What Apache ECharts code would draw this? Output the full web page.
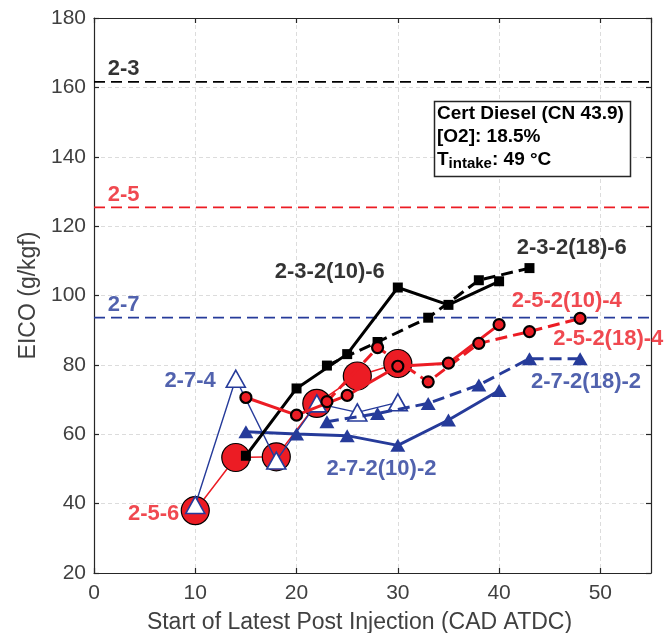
<!DOCTYPE html>
<html>
<head>
<meta charset="utf-8">
<title>EICO vs start of latest post injection</title>
<script src="https://cdn.jsdelivr.net/npm/echarts@6/dist/echarts.min.js"></script>
<style>
  html, body { margin: 0; padding: 0; background: #ffffff; }
  #chart { width: 668px; height: 633px; }
</style>
</head>
<body>
<div id="chart"></div>
<script>
// Injection timings (CAD ATDC) for each family of strategies
const xTenStep = [15, 20, 25, 30, 35, 40];
const xEighteenStep = [23, 28, 33, 38, 43, 48];
const xEighteenStepBlack = [23, 28, 33, 38, 43];
const xSinglePost = [10, 14, 18, 22, 26, 30];

// EICO (g/kgf) per strategy
const eico_2_3_2_10_6 = [53.8, 73.2, 83.1, 102.3, 97.3, 104.1];
const eico_2_3_2_18_6 = [79.8, 86.6, 93.6, 104.4, 107.9];
const eico_2_5_2_10_4 = [70.6, 65.5, 71.2, 79.6, 80.5, 91.6];
const eico_2_5_2_18_4 = [69.4, 85.0, 75.1, 86.2, 89.6, 93.4];
const eico_2_7_2_10_2 = [60.7, 60.1, 59.6, 56.8, 64.1, 72.6];
const eico_2_7_2_18_2 = [63.6, 66.0, 68.9, 74.2, 81.8, 81.8];
const eico_2_5_6 = [38.0, 53.3, 53.5, 68.9, 76.8, 80.4];
const eico_2_7_4 = [39.6, 76.0, 52.4, 68.9, 66.3, 69.2];

// Reference strategies without post injection
const refNames = ['2-3', '2-5', '2-7'];
const refEico = [161.6, 125.4, 93.6];

// Axis ticks
const xTicks = [0, 10, 20, 30, 40, 50];
const yTicks = [20, 40, 60, 80, 100, 120, 140, 160, 180];

// Series name tags and where they sit (left edge x, middle y, in axis units)
const tagTexts = ['2-3', '2-5', '2-7', '2-3-2(10)-6', '2-3-2(18)-6', '2-5-2(10)-4',
                  '2-5-2(18)-4', '2-7-2(18)-2', '2-7-2(10)-2', '2-7-4', '2-5-6'];
const tagX = [1.3, 1.3, 1.3, 17.8, 41.7, 41.2, 45.3, 43.1, 22.9, 6.9, 3.3];
const tagY = [165.2, 129.0, 97.3, 106.9, 113.6, 98.3, 87.4, 75.1, 50.0, 75.4, 37.0];

const BLACK = '#000000';
const RED = '#ec1c24';
const BLUE = '#263b9a';
const AXIS_GRAY = '#404040';
const FONT = "'Liberation Sans', Arial, Helvetica, sans-serif";
const tagColors = [BLACK, RED, BLUE, BLACK, BLACK, RED, RED, BLUE, BLUE, BLUE, RED];
const refColors = [BLACK, RED, BLUE];

const zip = (xs, ys) => xs.map((x, i) => [x, ys[i]]);

const xMin = xTicks[0], xMax = 55, xStep = xTicks[1] - xTicks[0];
const yMin = yTicks[0], yMax = yTicks[yTicks.length - 1], yStep = yTicks[1] - yTicks[0];

function valueAxis(kind, pos, main) {
  const isX = kind === 'x';
  return {
    type: 'value',
    position: pos,
    min: isX ? xMin : yMin,
    max: isX ? xMax : yMax,
    interval: isX ? xStep : yStep,
    name: main ? (isX ? 'Start of Latest Post Injection (CAD ATDC)' : 'EICO (g/kgf)') : '',
    nameLocation: 'middle',
    nameGap: isX ? 38 : 40,
    nameTextStyle: {
      fontFamily: FONT, fontSize: 23, color: AXIS_GRAY,
      padding: isX ? [0, 26, 0, 0] : 0
    },
    axisLine: { show: true, onZero: false, lineStyle: { color: '#262626', width: 1.2 } },
    axisTick: { show: true, inside: true, length: 5, lineStyle: { color: '#262626', width: 1.2 } },
    axisLabel: {
      show: main, fontFamily: FONT, fontSize: 21, color: AXIS_GRAY,
      margin: isX ? 10 : 8, showMaxLabel: isX ? false : true
    },
    splitLine: main ? { show: true, lineStyle: { color: '#dcdcdc', type: [4, 3], width: 1 } } : { show: false }
  };
}

function curve(name, xs, ys, opt) {
  return Object.assign({
    name: name,
    type: 'line',
    data: zip(xs, ys),
    showAllSymbol: true,
    showSymbol: true,
    animation: false,
    silent: true
  }, opt);
}

const series = [];

// Horizontal dashed levels for the reference strategies
refNames.forEach((nm, i) => {
  series.push({
    name: nm,
    type: 'line',
    data: [[xMin, refEico[i]], [xMax, refEico[i]]],
    symbol: 'none',
    lineStyle: { color: refColors[i], width: 1.7, type: [11, 6] },
    z: 2, animation: false, silent: true
  });
});

// Single post injection sweeps (thin lines, large markers)
series.push(curve('2-5-6', xSinglePost, eico_2_5_6, {
  symbol: 'circle', symbolSize: 28,
  itemStyle: { color: RED, borderColor: '#000', borderWidth: 1.2 },
  lineStyle: { color: RED, width: 1.5 }, z: 3
}));
series.push(curve('2-7-4', xSinglePost, eico_2_7_4, {
  symbol: 'triangle', symbolSize: [19, 17],
  itemStyle: { color: '#ffffff', borderColor: BLUE, borderWidth: 1.6 },
  lineStyle: { color: BLUE, width: 1.4 }, z: 4
}));

// Multi-pulse sweeps
series.push(curve('2-7-2(10)-2', xTenStep, eico_2_7_2_10_2, {
  symbol: 'triangle', symbolSize: [15, 13],
  itemStyle: { color: BLUE }, lineStyle: { color: BLUE, width: 3 }, z: 5
}));
series.push(curve('2-7-2(18)-2', xEighteenStep, eico_2_7_2_18_2, {
  symbol: 'triangle', symbolSize: [15, 13],
  itemStyle: { color: BLUE }, lineStyle: { color: BLUE, width: 3, type: [12, 6] }, z: 5
}));
series.push(curve('2-3-2(10)-6', xTenStep, eico_2_3_2_10_6, {
  symbol: 'rect', symbolSize: 10,
  itemStyle: { color: BLACK }, lineStyle: { color: BLACK, width: 3 }, z: 6
}));
series.push(curve('2-3-2(18)-6', xEighteenStepBlack, eico_2_3_2_18_6, {
  symbol: 'rect', symbolSize: 10,
  itemStyle: { color: BLACK }, lineStyle: { color: BLACK, width: 3, type: [12, 6] }, z: 6
}));
series.push(curve('2-5-2(10)-4', xTenStep, eico_2_5_2_10_4, {
  symbol: 'circle', symbolSize: 11,
  itemStyle: { color: RED, borderColor: '#000', borderWidth: 2.2 },
  lineStyle: { color: RED, width: 3 }, z: 7
}));
series.push(curve('2-5-2(18)-4', xEighteenStep, eico_2_5_2_18_4, {
  symbol: 'circle', symbolSize: 11,
  itemStyle: { color: RED, borderColor: '#000', borderWidth: 2.2 },
  lineStyle: { color: RED, width: 3, type: [12, 6] }, z: 7
}));

// Name tags placed in axis units
series.push({
  name: 'tags',
  type: 'scatter',
  symbolSize: 1,
  itemStyle: { color: 'rgba(0,0,0,0)' },
  data: tagTexts.map((t, i) => ({
    value: [tagX[i], tagY[i]],
    name: t,
    label: { color: tagColors[i] }
  })),
  label: {
    show: true, position: 'right', distance: 0,
    formatter: p => p.name,
    fontFamily: FONT, fontWeight: 'bold', fontSize: 22
  },
  z: 10, animation: false, silent: true
});

const chart = echarts.init(document.getElementById('chart'), null, { renderer: 'canvas' });
chart.setOption({
  animation: false,
  backgroundColor: '#ffffff',
  grid: {
    left: 94, right: 17, top: 18, bottom: 60, show: false,
    containLabel: false, outerBoundsMode: 'none'
  },
  xAxis: [valueAxis('x', 'bottom', true), valueAxis('x', 'top', false)],
  yAxis: [valueAxis('y', 'left', true), valueAxis('y', 'right', false)],
  series: series,
  graphic: [
    {
      type: 'rect',
      shape: { x: 434.5, y: 101.5, width: 196, height: 75 },
      style: { fill: '#ffffff', stroke: '#262626', lineWidth: 1.5 },
      z: 20
    },
    {
      type: 'text',
      x: 437, y: 102,
      style: {
        text: '{b|Cert Diesel (CN 43.9)}\n{b|[O2]: 18.5%}\n{b|T}{s|intake}{b|: 49 °C}',
        rich: {
          b: { fontFamily: FONT, fontWeight: 'bold', fontSize: 19, lineHeight: 23, fill: '#000' },
          s: { fontFamily: FONT, fontWeight: 'bold', fontSize: 15, lineHeight: 23, verticalAlign: 'bottom', padding: [9, 0, 0, 0], fill: '#000' }
        }
      },
      z: 21
    }
  ]
});
</script>
</body>
</html>
